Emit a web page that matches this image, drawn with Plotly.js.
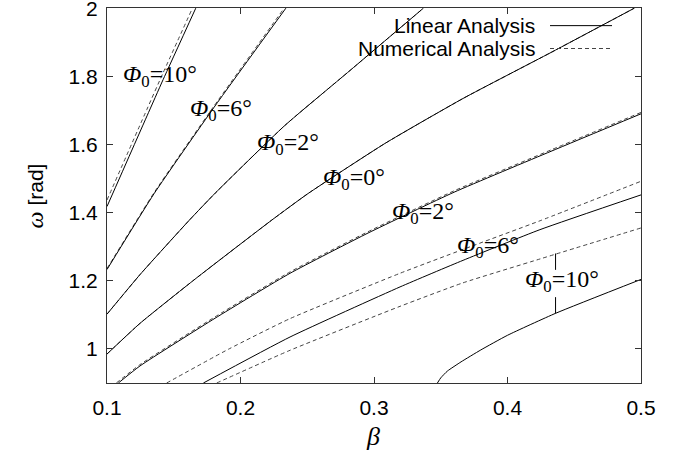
<!DOCTYPE html>
<html>
<head>
<meta charset="utf-8">
<script src="https://cdn.plot.ly/plotly-3.0.1.min.js"></script>
<style>html,body{margin:0;padding:0;background:#fff;}#chart{width:678px;height:456px;}</style>
</head>
<body>
<div id="chart"></div>
<script>
// ---- Linear analysis (solid) ----
const lin10a_beta = [0.1, 0.13, 0.142, 0.1665];
const lin10a_omega = [1.418, 1.684, 1.79, 2.0];
const lin6a_beta = [0.1, 0.1355, 0.18, 0.234];
const lin6a_omega = [1.233, 1.457, 1.708, 2.0];
const lin2a_beta = [0.1, 0.1247, 0.1617, 0.181, 0.233, 0.282, 0.337];
const lin2a_omega = [1.102, 1.218, 1.378, 1.457, 1.655, 1.817, 2.0];
const lin0_beta = [0.1, 0.1247, 0.166, 0.2234, 0.2506, 0.3082, 0.3667, 0.4326, 0.495];
const lin0_omega = [0.985, 1.075, 1.205, 1.378, 1.456, 1.603, 1.735, 1.87, 2.0];
const lin2b_beta = [0.1085, 0.1247, 0.1809, 0.2371, 0.2955, 0.36, 0.4326, 0.5];
const lin2b_omega = [0.9, 0.95, 1.09, 1.222, 1.34, 1.46, 1.58, 1.69];
const lin6b_beta = [0.1722, 0.2371, 0.3195, 0.3667, 0.4243, 0.5];
const lin6b_omega = [0.9, 1.035, 1.182, 1.26, 1.35, 1.452];
const lin10b_beta = [0.3475, 0.350, 0.355, 0.3652, 0.38, 0.40, 0.4363, 0.5];
const lin10b_omega = [0.9, 0.915, 0.935, 0.962, 0.997, 1.04, 1.105, 1.204];

// ---- Numerical analysis (dashed) ----
const num10a_beta = [0.1, 0.13, 0.142, 0.164];
const num10a_omega = [1.437, 1.704, 1.81, 2.0];
const num6a_beta = [0.1, 0.1355, 0.18, 0.2327];
const num6a_omega = [1.236, 1.46, 1.712, 2.0];
const num2a_beta = [0.1, 0.1247, 0.1617, 0.181, 0.233, 0.282, 0.337];
const num2a_omega = [1.102, 1.218, 1.378, 1.457, 1.655, 1.817, 2.0];
const num0_beta = [0.1, 0.1247, 0.166, 0.2234, 0.2506, 0.3082, 0.3667, 0.4326, 0.495];
const num0_omega = [0.985, 1.075, 1.205, 1.378, 1.456, 1.603, 1.735, 1.87, 2.0];
const num2b_beta = [0.107, 0.1247, 0.1809, 0.2371, 0.2955, 0.36, 0.4326, 0.5];
const num2b_omega = [0.9, 0.954, 1.094, 1.226, 1.344, 1.464, 1.584, 1.694];
const num6b_beta = [0.1447, 0.1909, 0.2371, 0.3195, 0.3667, 0.4243, 0.5];
const num6b_omega = [0.9, 0.999, 1.089, 1.222, 1.292, 1.376, 1.492];
const num10b_beta = [0.1822, 0.2371, 0.3195, 0.3667, 0.4243, 0.5];
const num10b_omega = [0.9, 0.996, 1.125, 1.194, 1.264, 1.355];

// ---- label pointer for lower Φ0=10° ----
const pointer_beta = [0.436, 0.436, null, 0.436, 0.436];
const pointer_omega = [1.28, 1.232, null, 1.152, 1.105];

// ---- curve labels ----
const label_phi = ['10', '6', '2', '0', '2', '6', '10'];
const label_beta = [0.1105, 0.1607, 0.2109, 0.2603, 0.3117, 0.3607, 0.4114];
const label_omega = [1.8, 1.7, 1.6, 1.5, 1.4, 1.3, 1.2];

// ---- ticks ----
const xTicks = [0.1, 0.2, 0.3, 0.4, 0.5];
const xTickText = ['0.1', '0.2', '0.3', '0.4', '0.5'];
const yTicks = [1, 1.2, 1.4, 1.6, 1.8, 2];
const yTickText = ['1', '1.2', '1.4', '1.6', '1.8', '2'];

const legendNames = ['Linear Analysis', 'Numerical Analysis'];

const numLine = {color: '#444', width: 1, dash: '4px,3px', shape: 'spline', smoothing: 0.5};
const linLine = {color: '#000', width: 1, shape: 'spline', smoothing: 0.5};

const numSets = [[num10a_beta, num10a_omega], [num6a_beta, num6a_omega], [num2a_beta, num2a_omega],
  [num0_beta, num0_omega], [num2b_beta, num2b_omega], [num6b_beta, num6b_omega], [num10b_beta, num10b_omega]];
const linSets = [[lin10a_beta, lin10a_omega], [lin6a_beta, lin6a_omega], [lin2a_beta, lin2a_omega],
  [lin0_beta, lin0_omega], [lin2b_beta, lin2b_omega], [lin6b_beta, lin6b_omega], [lin10b_beta, lin10b_omega]];

const traces = [];
numSets.forEach(s => traces.push({x: s[0], y: s[1], mode: 'lines', line: numLine, showlegend: false, hoverinfo: 'skip'}));
linSets.forEach(s => traces.push({x: s[0], y: s[1], mode: 'lines', line: linLine, showlegend: false, hoverinfo: 'skip'}));
traces.push({x: pointer_beta, y: pointer_omega, mode: 'lines', line: {color: '#000', width: 1}, showlegend: false, hoverinfo: 'skip', connectgaps: false});

const serif = 'Liberation Serif, Times New Roman, serif';
const sans = 'Liberation Sans, Arial, sans-serif';

const annotations = label_phi.map((p, i) => ({
  x: label_beta[i], y: label_omega[i], xref: 'x', yref: 'y',
  text: '<i>Φ</i><sub>0</sub>=' + p + '°',
  showarrow: false, xanchor: 'left', yanchor: 'middle',
  font: {family: serif, size: 24, color: '#000'}
}));
annotations.push({
  x: -0.135, y: 0.5, xref: 'paper', yref: 'paper', textangle: -90,
  text: '<span style="font-family:Liberation Serif;font-size:24px"><i>ω</i></span> [rad]',
  showarrow: false, xanchor: 'center', yanchor: 'middle',
  font: {family: sans, size: 21, color: '#000'}
});
annotations.push({
  x: 0.498, y: -0.144, xref: 'paper', yref: 'paper',
  text: '<i>β</i>', showarrow: false, xanchor: 'center', yanchor: 'middle',
  font: {family: serif, size: 26, color: '#000'}
});
// legend text (gnuplot-style: text, then sample)
const legendY = [0.953, 0.892];
legendNames.forEach((n, i) => annotations.push({
  x: 0.806, y: legendY[i], xref: 'paper', yref: 'paper', text: n,
  showarrow: false, xanchor: 'right', yanchor: 'middle',
  font: {family: sans, size: 21, color: '#000'}
}));
const shapes = [
  {type: 'line', xref: 'paper', yref: 'paper', x0: 0.8296, x1: 0.9457, y0: legendY[0], y1: legendY[0], line: {color: '#000', width: 1}},
  {type: 'line', xref: 'paper', yref: 'paper', x0: 0.8296, x1: 0.9457, y0: legendY[1], y1: legendY[1], line: {color: '#444', width: 1, dash: '4px,3px'}}
];

const axisCommon = {
  showgrid: false, zeroline: false, showline: true, linecolor: '#333', linewidth: 1,
  mirror: 'ticks', ticks: 'inside', ticklen: 6, tickcolor: '#333', tickwidth: 1,
  ticklabeloverflow: 'allow',
  tickfont: {family: sans, size: 21, color: '#000'}
};

const layout = {
  width: 678, height: 456,
  margin: {l: 107, r: 37, t: 8, b: 73, pad: 0},
  paper_bgcolor: '#fff', plot_bgcolor: '#fff',
  xaxis: Object.assign({}, axisCommon, {range: [0.1, 0.5], tickvals: xTicks, ticktext: xTickText, ticklabelstandoff: 6}),
  yaxis: Object.assign({}, axisCommon, {range: [0.9, 2.0005], tickvals: yTicks, ticktext: yTickText, ticklabelstandoff: 4}),
  annotations: annotations, shapes: shapes, showlegend: false
};

Plotly.newPlot('chart', traces, layout, {staticPlot: true, displayModeBar: false});
</script>
</body>
</html>
